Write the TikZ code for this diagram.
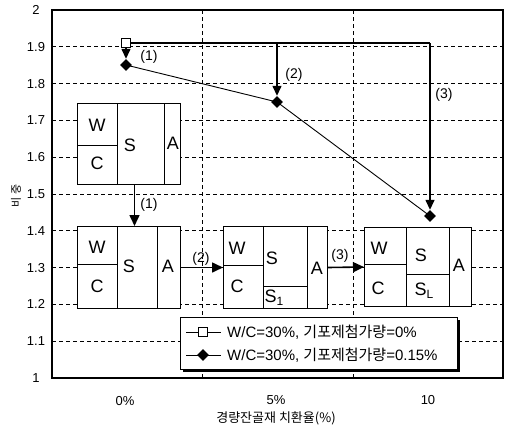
\documentclass[tikz,border=0pt]{standalone}
\usepackage{fontspec}
\setmainfont{Liberation Sans}
\newfontfamily\kr{Noto Sans CJK KR}
\usetikzlibrary{arrows.meta, positioning, shapes.geometric}
\tikzset{%
	grid line/.style={dash pattern=on 3.5pt off 3.5pt, line width=0.7pt},
	frame/.style={draw, line width=1pt, inner sep=0pt, anchor=north west},
	cell line/.style={line width=1pt},
	cell label/.style={font=\fontsize{18}{18}\selectfont, inner sep=0pt},
	step label/.style={font=\fontsize{14}{14}\selectfont, inner sep=0pt},
	tick label/.style={font=\fontsize{13}{13}\selectfont, inner sep=0pt},
	flow/.style={-{Triangle[length=11pt,width=10pt]}, line width=1.6pt},
	data/.style={-{Triangle[length=10pt,width=9pt]}, line width=1.4pt},
	open mark/.style={draw, fill=white, minimum size=9pt, inner sep=0pt, line width=1pt},
	full mark/.style={diamond, fill=black, minimum size=12pt, inner sep=0pt},
}
\newcommand{\sub}[1]{\raisebox{-3pt}{\fontsize{12}{12}\selectfont #1}}

\begin{document}
\begin{tikzpicture}[x=1pt, y=-1pt]
	\useasboundingbox (0,0) rectangle (507,426);

	% grid
	\foreach \v in {1,...,9}
		\draw[grid line] (52,{378-36.8*\v}) -- (503,{378-36.8*\v});
	\foreach \x in {202,353}
		\draw[grid line] (\x,10) -- (\x,378);
	\draw[line width=2pt] (52,10) rectangle (503,378);

	% axis labels
	\foreach \v/\t in {0/1,1/1.1,2/1.2,3/1.3,4/1.4,5/1.5,6/1.6,7/1.7,8/1.8,9/1.9,10/2}
		\node[tick label] (ty\v) at (36,{378-36.8*\v}) {\t};
	\node[tick label] (tx0) at (125,401) {0\%};
	\node[tick label] (tx1) at (276,400) {5\%};
	\node[tick label] (tx2) at (428,400) {10};
	\node[tick label] (xtitle) at (276,418) {\kr 경량잔골재 치환율(\%)};
	\node[tick label, rotate=90, font=\fontsize{11}{11}\selectfont] (ytitle) at (16,196) {\kr 비 중};

	% data
	\node[full mark] (d0) at (126,65) {};
	\node[full mark] (d1) at (277,102) {};
	\node[full mark] (d2) at (430,216) {};
	\draw[line width=0.9pt] (d0.center) -- (d1.center) -- (d2.center);
	\node[open mark] (sq0) at (126,43) {};
	\coordinate (top1) at (d1 |- sq0);
	\coordinate (top2) at (d2 |- sq0);
	\draw[line width=1.2pt] (sq0.east) -- (top2);
	\draw[data] (sq0.south) -- (d0.north);
	\draw[data] (top1) -- (d1.north);
	\draw[data] (top2) -- (d2.north);
	\node[step label] (n1) at (149,57) {(1)};
	\node[step label] (n2) at (294,75) {(2)};
	\node[step label] (n3) at (444,95) {(3)};

	% mix box, no replacement
	\node[frame, fill=white, minimum width=103pt, minimum height=81pt] (box0) at (77,103) {};
	\draw[cell line] (117,103) -- (117,184);
	\draw[cell line] (164,103) -- (164,184);
	\draw[cell line] (77,145) -- (117,145);
	\node[cell label] (w0) at (97,125) {W};
	\node[cell label] (c0) at (97,163) {C};
	\node[cell label] (s0) at (130,145) {S};
	\node[cell label] (a0) at (173,143) {A};

	% mix box, with foam agent
	\node[frame, fill=white, minimum width=103pt, minimum height=82pt] (box1) at (77,226) {};
	\draw[cell line] (117,226) -- (117,308);
	\draw[cell line] (157,226) -- (157,308);
	\draw[cell line] (77,264) -- (117,264);
	\node[cell label] (w1) at (97,247) {W};
	\node[cell label] (c1) at (97,286) {C};
	\node[cell label] (s1) at (129,266) {S};
	\node[cell label] (a1) at (168,266) {A};

	% mix box, 5%
	\node[frame, fill=white, minimum width=104pt, minimum height=82pt] (box2) at (223,226) {};
	\draw[cell line] (263,226) -- (263,308);
	\draw[cell line] (307,226) -- (307,308);
	\draw[cell line] (223,265) -- (263,265);
	\draw[cell line] (263,286) -- (307,286);
	\node[cell label] (w2) at (237,248) {W};
	\node[cell label] (c2) at (237,286) {C};
	\node[cell label] (s2) at (272,258) {S};
	\node[cell label] (sl2) at (274,298) {S\sub{1}};
	\node[cell label] (a2) at (317,268) {A};

	% mix box, 10%
	\node[frame, fill=white, minimum width=107pt, minimum height=79pt] (box3) at (364,227) {};
	\draw[cell line] (406,227) -- (406,306);
	\draw[cell line] (449,227) -- (449,306);
	\draw[cell line] (364,264) -- (406,264);
	\draw[cell line] (406,274) -- (449,274);
	\node[cell label] (w3) at (379,248) {W};
	\node[cell label] (c3) at (378,288) {C};
	\node[cell label] (s3) at (421,255) {S};
	\node[cell label] (sl3) at (424,291) {S\sub{L}};
	\node[cell label] (a3) at (459,265) {A};

	% steps between boxes
	\draw[flow] ([xshift=5.5pt]box0.south) -- ([xshift=5.5pt]box1.north);
	\draw[flow] (box1.east) -- (box2.west);
	\draw[flow] (box2.east) -- (box3.west);
	\node[step label] (m1) at (149,205) {(1)};
	\node[step label] (m2) at (201,259) {(2)};
	\node[step label] (m3) at (340,256) {(3)};

	% legend
	\fill[black] (183,320) rectangle (460,372);
	\node[frame, fill=white, minimum width=277pt, minimum height=52pt] (leg) at (180,317) {};
	\coordinate (la1) at (186,332);
	\coordinate (lb1) at (221,332);
	\coordinate (la2) at (186,355);
	\coordinate (lb2) at (221,355);
	\draw[line width=1pt] (la1) -- (lb1);
	\draw[line width=1pt] (la2) -- (lb2);
	\node[open mark] (lm1) at (203,332) {};
	\node[full mark] (lm2) at (203,355) {};
	\node[anchor=west, inner sep=0pt, font=\fontsize{15}{15}\selectfont] (lt1) at (227,332) {W/C=30\%, {\kr 기포제첨가량}=0\%};
	\node[anchor=west, inner sep=0pt, font=\fontsize{15}{15}\selectfont] (lt2) at (227,355) {W/C=30\%, {\kr 기포제첨가량}=0.15\%};
\end{tikzpicture}
\end{document}
